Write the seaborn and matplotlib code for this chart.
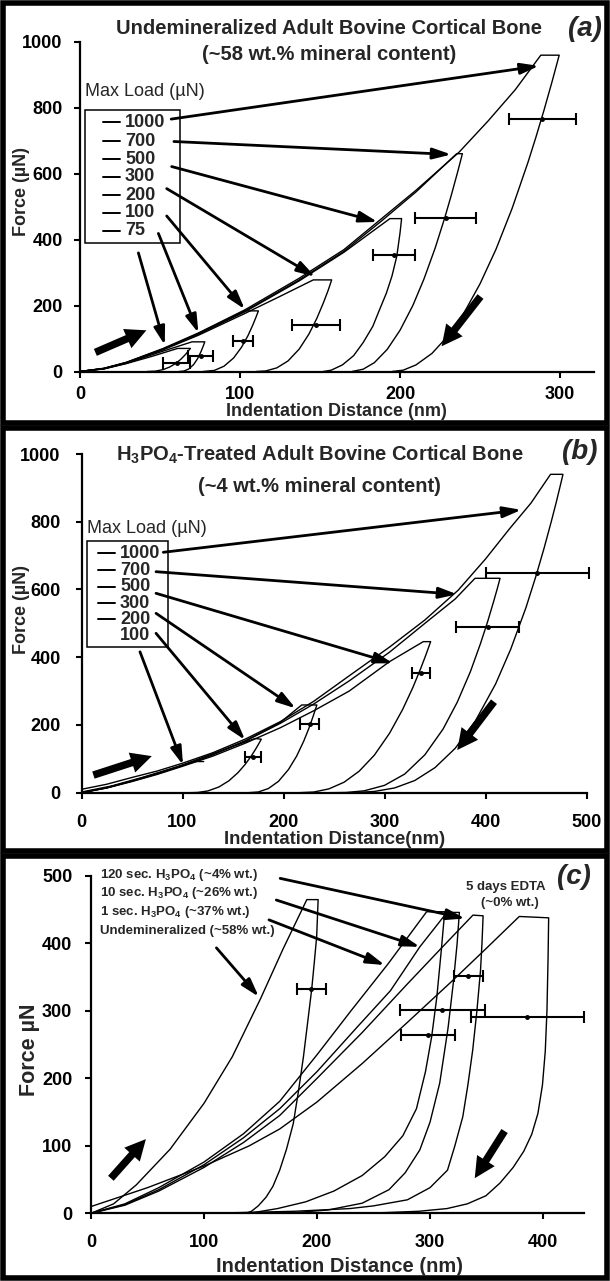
import numpy as np
import pandas as pd
import matplotlib
matplotlib.use('Agg')
import matplotlib.pyplot as plt
import seaborn as sns
from matplotlib.patches import Rectangle
from matplotlib.lines import Line2D

# ---------------- data ----------------
# Panel (a): undemineralized bone, curves as (depth nm, force uN)
a_loads = ['1000', '700', '500', '300', '200', '100', '75']
a_1000 = [(0,0),(15,10),(29,28),(52,70),(74,117),(103,187),(137,283),(165,370),(188,462),(210,550),(237,666),(255,760),(272,855),(288,960),(299.5,960),(295,879),(290,793),(285,712),(280,635),(270,494),(260,371),(250,266),(240,178),(230,108),(220,55),(210,20),(202,4),(195,0)]
a_700 = [(0,0),(15,9),(29,27),(52,68),(74,114),(103,183),(137,278),(165,365),(188,455),(210,545),(235.4,661),(239,661),(236,605),(232,534),(228,467),(222,375),(215,281),(208,200),(200,125),(192,67),(184,27),(177,7),(170,0)]
a_500 = [(0,0),(15,9),(29,27),(52,68),(74,113),(103,181),(137,275),(165,362),(193.7,464),(201,464),(200,420),(198,350),(195,290),(191.5,238),(187,185),(183,137),(177,88),(171,48),(164,20),(157,4),(152,0)]
a_300 = [(0,0),(15,9),(29,26),(52,66),(74,110),(103,176),(125,228),(145.8,278),(157.3,278),(155,245),(152,207),(148,161),(143,113),(137,68),(130,32),(123,11),(116,1.6),(110,0)]
a_200 = [(0,0),(15,9),(29,27),(52,68),(74,115),(103,184),(111.5,184),(110,165),(108,141),(105,109),(101,74),(96,41),(90,16),(84,3.4),(77,0)]
a_100 = [(0,0),(15,8),(29,25),(52,62),(70,90),(78,90),(77,77),(75.5,59),(73.5,39),(71,21),(68,7.7),(65,1.4),(62,0)]
a_75 = [(0,0),(15,8),(29,24),(45,46),(61,70),(69,70),(68,64),(66,52),(63,37),(60,25),(56,13.5),(52,5.8),(47,1),(42,0)]
a_err_x = [289, 228.6, 196.4, 147.4, 102, 75.5, 60.4]
a_err_y = [766, 466, 353, 142, 92, 48, 26]
a_err_dx = [21, 19, 13, 15, 6.3, 7.8, 8.4]
a_arrow_tail = [(57,766),(58.7,698),(57.3,622),(54.2,555),(54.2,472),(49,419),(36.5,360)]
a_arrow_head = [(286.8,927.5),(232,658.6),(186,454),(147,288),(103,189),(74,117),(53,80)]
a_big_arrows = [((9.6,58),(41.5,125)), ((250.3,227.6),(226,76.5))]

# Panel (b): H3PO4-treated bone
b_loads = ['1000', '700', '500', '300', '200', '100']
b_1000 = [(0,10),(25,25),(50,45),(75,64),(100,87),(130,118),(162,158),(197,210),(230,270),(265,345),(305,430),(340,510),(373,598),(400,690),(424,780),(445,855),(464.4,940),(476.7,940),(474,906),(470,857),(465,799),(458,722),(450,640),(440,546),(425,424),(410,321),(390,212),(370,131),(350,74),(330,36),(310,14),(290,3.7),(270,0.3),(255,0)]
b_700 = [(0,0),(25,15),(50,35),(75,56),(100,80),(130,112),(162,152),(197,205),(230,262),(265,330),(305,415),(340,500),(370,572),(389.6,633),(414.4,633),(412,606),(408,564),(402,504),(395,440),(385,357),(372,267),(358,188),(340,112),(320,55),(300,21.7),(280,5.6),(262,0.6),(245,0)]
b_500 = [(0,0),(25,14),(50,33),(75,54),(100,78),(130,108),(162,146),(197,192),(230,242),(265,300),(305,387),(338.4,446),(345.7,446),(344,432),(341,407),(336,368),(328,310),(318,246),(305,175.5),(290,111),(275,63.7),(260,31),(245,11.3),(230,2),(215,0)]
b_300 = [(0,0),(25,14),(50,34),(75,56),(100,80),(130,113),(162,153),(197,208),(218,259),(233,259),(232,249.6),(229,222.6),(225,189),(220,152),(213,108),(205,68.7),(195,33.5),(185,12.2),(175,2.1),(165,0)]
b_200 = [(0,0),(25,15),(50,35),(75,57),(100,82),(130,115),(150,137),(172,160),(178,158),(177,152.5),(175,141.8),(172,126.7),(168,108),(162,83.5),(155,59.4),(146,35.3),(136,16.8),(125,5.1),(115,0.7),(107,0)]
b_100 = [(0,2),(30,20),(60,45),(90,72),(113,92),(121,92)]
b_err_x = [451, 402, 336, 226, 170]
b_err_y = [650, 489, 354, 202, 104.5]
b_err_dx = [51, 31.5, 9, 9.5, 8.2]
b_arrow_tail = [(81,709.8),(73.8,652.5),(73.8,588.7),(73.8,529.6),(73.8,470.6),(57.9,416)]
b_arrow_head = [(435.5,835),(372,585.7),(308.4,382),(212,249),(162,155.6),(100.5,81.8)]
b_big_arrows = [((11.8,52),(69.6,108)), ((408.4,268.7),(372,126))]

# Panel (c): comparison of treatments
c_labels = ['120 sec. H$_3$PO$_4$ (~4% wt.)', '10 sec. H$_3$PO$_4$ (~26% wt.)',
            '1 sec. H$_3$PO$_4$ (~37% wt.)', 'Undemineralized (~58% wt.)']
c_undemin = [(0,0),(20,14),(40,42),(70,95),(100,163),(125,232),(150,318),(170,392),(191,465),(201,465),(199.7,410),(197.5,370),(195.3,332),(191.5,280),(188,232),(183.5,180),(179,133),(173,95),(167,64),(161,40),(155,24),(148,11),(142,3),(137,0)]
c_1sec = [(0,0),(30,14),(60,38),(100,76),(135,118),(167,166),(200,235),(230,300),(263,370),(297,447),(313,447),(310,390),(306,320),(301.5,262),(296,210),(288,155),(276,115),(260,84),(240,56),(215,33),(190,17),(165,7),(140,0)]
c_10sec = [(0,0),(30,13),(60,35),(100,72),(135,112),(167,155),(200,210),(235,275),(265,330),(291,395),(315,446),(326,446),(324,400),(320.6,341),(316,275),(308.6,193),(300,135),(291,94),(278,60),(263.7,35),(240,15),(210,5),(180,1),(160,0)]
c_120sec = [(0,0),(30,12),(60,33),(100,68),(135,105),(167,145),(200,200),(240,268),(280,340),(310,393),(338,442),(347,441),(346,400),(344.7,360),(341.5,300),(337.8,242),(333.5,190),(329,143),(322,100),(315.5,64),(300,38),(280,20),(250,11),(229,7),(180,3),(130,1),(100,0)]
c_edta = [(0,10),(50,38),(100,70),(140,100),(167,125),(200,165),(240,222),(280,283),(320,345),(350,393),(379,440),(405,438),(404.5,380),(403.5,300),(402,240),(399.5,190),(395.5,148),(390,117),(383,92),(373.6,68),(362,45),(349.5,26),(333,14),(315,7),(290,3),(260,1),(229,0)]
c_err_x = [195, 334, 311, 298, 386]
c_err_y = [332, 352, 301, 265, 291.5]
c_err_dx = [13, 13, 37.5, 24, 50]
c_arrow_tail = [(167.4,496.5),(164,464.4),(157.5,435),(111,393.5)]
c_arrow_head = [(331,437),(291,395),(260,368),(148.5,321)]
c_big_arrows = [((17.6,51.9),(48.6,110)), ((366,122),(339.6,52))]

# ---------------- style ----------------
W, H = 610, 1281
sns.set_theme(style='ticks')
plt.rcParams['font.family'] = ['Liberation Sans', 'DejaVu Sans']
plt.rcParams['font.weight'] = 'bold'
plt.rcParams['mathtext.fontset'] = 'custom'
plt.rcParams['mathtext.rm'] = 'Liberation Sans:bold'
plt.rcParams['mathtext.it'] = 'Liberation Sans:bold:italic'
plt.rcParams['mathtext.bf'] = 'Liberation Sans:bold'

fig = plt.figure(figsize=(W / 100, H / 100), dpi=100)
fig.patch.set_facecolor('white')


def fx(px):
    return px / W


def fy(py):
    return 1 - py / H


def make_axes(left, right, top, bottom):
    return fig.add_axes([fx(left), fy(bottom), (right - left) / W, (bottom - top) / H])


def style_axes(ax, xlim, ylim, xticks, yticks, xpad, ypad):
    ax.set_xlim(*xlim)
    ax.set_ylim(*ylim)
    ax.set_xticks(xticks)
    ax.set_yticks(yticks)
    ax.set_xlabel('')
    ax.set_ylabel('')
    ax.set_facecolor('none')
    for s in ['top', 'right']:
        ax.spines[s].set_visible(False)
    for s in ['left', 'bottom']:
        ax.spines[s].set_linewidth(1.6)
        ax.spines[s].set_color('black')
    ax.tick_params(axis='x', direction='out', length=4, width=1.5, labelsize=13, pad=xpad, colors='black')
    ax.tick_params(axis='y', direction='out', length=4, width=1.5, labelsize=13, pad=ypad, colors='black')


def draw_curves(ax, curves):
    for pts in curves:
        df = pd.DataFrame(pts, columns=['x', 'y'])
        sns.lineplot(data=df, x='x', y='y', sort=False, estimator=None,
                     color='black', lw=1.0, ax=ax, legend=False)


def draw_errors(ax, xs, ys, dxs):
    ax.errorbar(xs, ys, xerr=dxs, fmt='o', ms=2.5, color='black', ecolor='black',
                elinewidth=1.5, capsize=4, capthick=1.5, clip_on=False, zorder=5)


def draw_arrows(ax, tails, heads):
    for t, h in zip(tails, heads):
        ax.annotate('', xy=h, xytext=t, xycoords='data', textcoords='data',
                    arrowprops=dict(arrowstyle='-|>,head_length=1.1,head_width=0.33',
                                    color='black', lw=2.0, mutation_scale=10,
                                    shrinkA=0, shrinkB=0),
                    annotation_clip=False, zorder=6)


def draw_big_arrows(ax, arrows):
    for t, h in arrows:
        ax.annotate('', xy=h, xytext=t, xycoords='data', textcoords='data',
                    arrowprops=dict(arrowstyle='simple,head_length=0.75,head_width=0.75,tail_width=0.27',
                                    fc='black', ec='black', lw=0, mutation_scale=20,
                                    shrinkA=0, shrinkB=0),
                    annotation_clip=False, zorder=6)


def legend_box(left, right, top, bottom, head_y, rows_y, labels, dash_count, dash_x0, dash_x1, text_x):
    fig.text(fx(left), fy(head_y), 'Max Load (\u00b5N)', fontsize=13, fontweight='normal',
             ha='left', va='center')
    fig.patches.append(Rectangle((fx(left), fy(bottom)), (right - left) / W, (bottom - top) / H,
                                 transform=fig.transFigure, fill=False, ec='black', lw=1.1))
    for i, (yy, lab) in enumerate(zip(rows_y, labels)):
        if i < dash_count:
            fig.lines.append(Line2D([fx(dash_x0), fx(dash_x1)], [fy(yy), fy(yy)],
                                    transform=fig.transFigure, color='black', lw=1.4))
        fig.text(fx(text_x), fy(yy), lab, fontsize=13, fontweight='bold', ha='left', va='center')


# ---------------- panel (a) ----------------
ax_a = make_axes(80, 80 + 321 * 1.6, 42, 371.5)
draw_curves(ax_a, [a_1000, a_700, a_500, a_300, a_200, a_100, a_75])
draw_errors(ax_a, a_err_x, a_err_y, a_err_dx)
draw_arrows(ax_a, a_arrow_tail, a_arrow_head)
draw_big_arrows(ax_a, a_big_arrows)
style_axes(ax_a, (0, 321), (0, 1000), [0, 100, 200, 300], [0, 200, 400, 600, 800, 1000], 6.5, 8.5)
fig.text(fx(329), fy(29), 'Undemineralized Adult Bovine Cortical Bone', fontsize=14.5, ha='center', va='center')
fig.text(fx(329), fy(55), '(~58 wt.% mineral content)', fontsize=14.5, ha='center', va='center')
fig.text(fx(585), fy(29), '(a)', fontsize=20, fontstyle='italic', ha='center', va='center')
fig.text(fx(21.5), fy(192), 'Force (\u00b5N)', fontsize=13, rotation=90, ha='center', va='center')
fig.text(fx(336), fy(411), 'Indentation Distance (nm)', fontsize=13, ha='center', va='center')
legend_box(85, 180, 110, 243.3, 92, [122.3, 141, 159, 176.7, 195, 212.7, 230.7], a_loads, 7,
           103.3, 120, 125)

# ---------------- panel (b) ----------------
ax_b = make_axes(81.5, 81.5 + 505, 454, 792.7)
draw_curves(ax_b, [b_1000, b_700, b_500, b_300, b_200, b_100])
draw_errors(ax_b, b_err_x, b_err_y, b_err_dx)
draw_arrows(ax_b, b_arrow_tail, b_arrow_head)
draw_big_arrows(ax_b, b_big_arrows)
style_axes(ax_b, (0, 500), (0, 1000), [0, 100, 200, 300, 400, 500], [0, 200, 400, 600, 800, 1000], 11, 11)
fig.text(fx(320), fy(455), 'H$_3$PO$_4$-Treated Adult Bovine Cortical Bone', fontsize=14.5, ha='center', va='center')
fig.text(fx(319), fy(487), '(~4 wt.% mineral content)', fontsize=14.5, ha='center', va='center')
fig.text(fx(580), fy(452), '(b)', fontsize=20, fontstyle='italic', ha='center', va='center')
fig.text(fx(22), fy(610), 'Force (\u00b5N)', fontsize=13, rotation=90, ha='center', va='center')
fig.text(fx(335), fy(840), 'Indentation Distance(nm)', fontsize=13.3, ha='center', va='center')
legend_box(86.7, 168.3, 540.7, 646.7, 528.3, [553.3, 570, 586.7, 603.3, 619.3, 636], b_loads, 5,
           98.3, 115, 120)

# ---------------- panel (c) ----------------
ax_c = make_axes(91, 91 + 436 * 1.13, 876, 1213.3)
draw_curves(ax_c, [c_undemin, c_1sec, c_10sec, c_120sec, c_edta])
draw_errors(ax_c, c_err_x, c_err_y, c_err_dx)
draw_arrows(ax_c, c_arrow_tail, c_arrow_head)
draw_big_arrows(ax_c, c_big_arrows)
style_axes(ax_c, (0, 436), (0, 500), [0, 100, 200, 300, 400], [0, 100, 200, 300, 400, 500], 11, 9.5)
for yy, lab in zip([875, 893.3, 911.7, 930.7], c_labels):
    fig.text(fx(100), fy(yy), lab, fontsize=9.5, ha='left', va='center')
fig.text(fx(506), fy(886.7), '5 days EDTA', fontsize=9.5, ha='center', va='center')
fig.text(fx(510), fy(903.3), '(~0% wt.)', fontsize=9.5, ha='center', va='center')
fig.text(fx(574), fy(877), '(c)', fontsize=20, fontstyle='italic', ha='center', va='center')
fig.text(fx(30), fy(1050), 'Force \u00b5N', fontsize=15.5, rotation=90, ha='center', va='center')
fig.text(fx(340), fy(1267), 'Indentation Distance (nm)', fontsize=14.5, ha='center', va='center')

# ---------------- panel frames ----------------
for (x0, y0, x1, y1) in [(3, 3, 607, 423), (3, 428, 607, 851), (3, 856, 607, 1278)]:
    fig.patches.append(Rectangle((fx(x0), fy(y1)), (x1 - x0) / W, (y1 - y0) / H,
                                 transform=fig.transFigure, fill=False, ec='black', lw=4.0))

fig.savefig('out.png', dpi=100)
